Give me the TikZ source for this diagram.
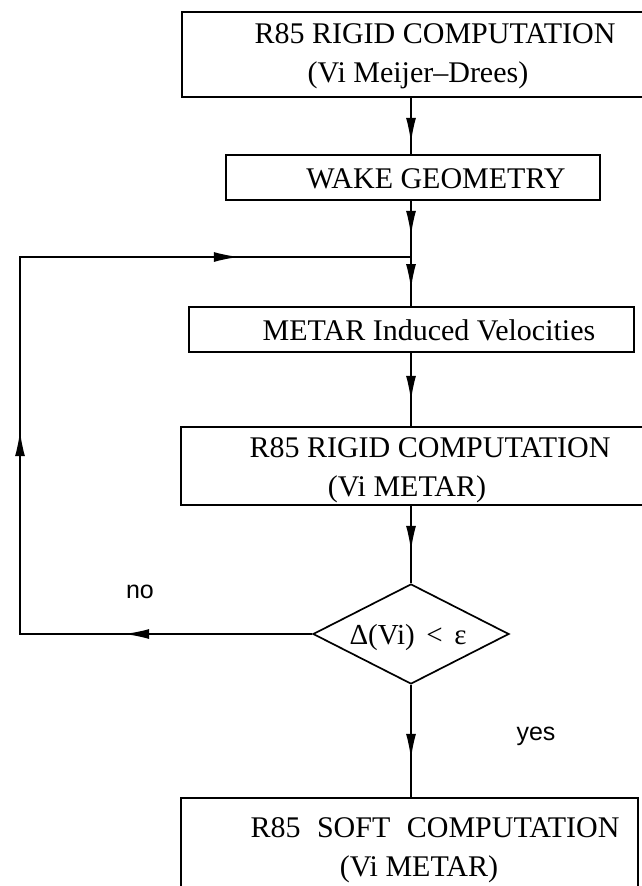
\documentclass[tikz,border=0pt]{standalone}
\usepackage{fontspec}
\setmainfont{Liberation Serif}
\newfontfamily\lsans{Liberation Sans}
\usetikzlibrary{arrows.meta,decorations.markings,shapes.geometric}
\tikzset{
  box/.style={draw, line width=1.7pt, inner sep=0pt},
  lbl/.style={font=\fontsize{30}{36}\selectfont, inner sep=0pt, anchor=base},
  slbl/.style={font=\lsans\fontsize{25}{30}\selectfont, inner sep=0pt, anchor=base},
  conn/.style={line width=1.7pt},
  tipat/.style={postaction={decorate}, decoration={markings,
      mark=at position #1 with {\arrow{Latex[length=25pt,width=10pt]}}}},
  loopmarks/.style={postaction={decorate}, decoration={markings,
      mark=at position 188pt with {\arrow{Latex[length=25pt,width=10pt]}},
      mark=at position 495pt with {\arrow{Latex[length=25pt,width=10pt]}},
      mark=at position 888pt with {\arrow{Latex[length=25pt,width=10pt]}}}},
}
\begin{document}
\begin{tikzpicture}[x=1pt,y=-1pt]
\useasboundingbox[fill=white] (0,0) rectangle (642,886);

% boxes
\node[box, minimum width=468pt, minimum height=85pt] (b1) at (416,54.5) {};
\node[lbl] (b1a) at (435,43) {R85 RIGID COMPUTATION};
\node[lbl] (b1b) at (418,82) {(Vi Meijer–Drees)};

\node[box, minimum width=374pt, minimum height=45pt] (wake) at (413,177.5) {};
\node[lbl] (wakel) at (436,188) {WAKE GEOMETRY};

\coordinate (J) at (411,257);
\coordinate (cT) at (20,257);
\coordinate (cL) at (20,634);

\node[box, minimum width=445pt, minimum height=45pt] (metar) at (411.5,329.5) {};
\node[lbl] (metarl) at (429,340) {METAR Induced Velocities};

\node[box, minimum width=469pt, minimum height=78pt] (b2) at (415.5,466) {};
\node[lbl] (b2a) at (430,457) {R85 RIGID COMPUTATION};
\node[lbl] (b2b) at (407,496) {(Vi METAR)};

\node[draw, line width=1.7pt, diamond, inner sep=0pt,
      minimum width=196pt, minimum height=100pt] (D) at (411,634) {};
\node[lbl, font=\fontsize{29}{34}\selectfont] (Dl) at (408,644)
      {Δ(Vi)\hspace{0.4em}<\hspace{0.4em}ε};

\node[box, minimum width=457pt, minimum height=102pt] (b3) at (409.5,849) {};
\node[lbl] (b3a) at (435,837) {R85\hspace{0.55em}SOFT\hspace{0.55em}COMPUTATION};
\node[lbl] (b3b) at (419,876) {(Vi METAR)};

\node[slbl] (no) at (140,598) {no};
\node[slbl] (yes) at (536,740) {yes};

% connectors
\draw[conn, tipat=45pt] (b1.south -| J) -- (wake.north -| J);
\draw[conn, tipat=35pt] (wake.south -| J) -- (J);
\draw[conn, tipat=32pt] (J) -- (metar.north -| J);
\draw[conn, tipat=48pt] (metar.south -| J) -- (b2.north -| J);
\draw[conn, tipat=45pt] (b2.south -| J) -- (D.north);
\draw[conn, tipat=74pt] (D.south) -- (b3.north -| D.south);
\draw[conn, loopmarks, line join=miter] (D.west) -- (cL) -- (cT) -- (J);
\end{tikzpicture}
\end{document}
